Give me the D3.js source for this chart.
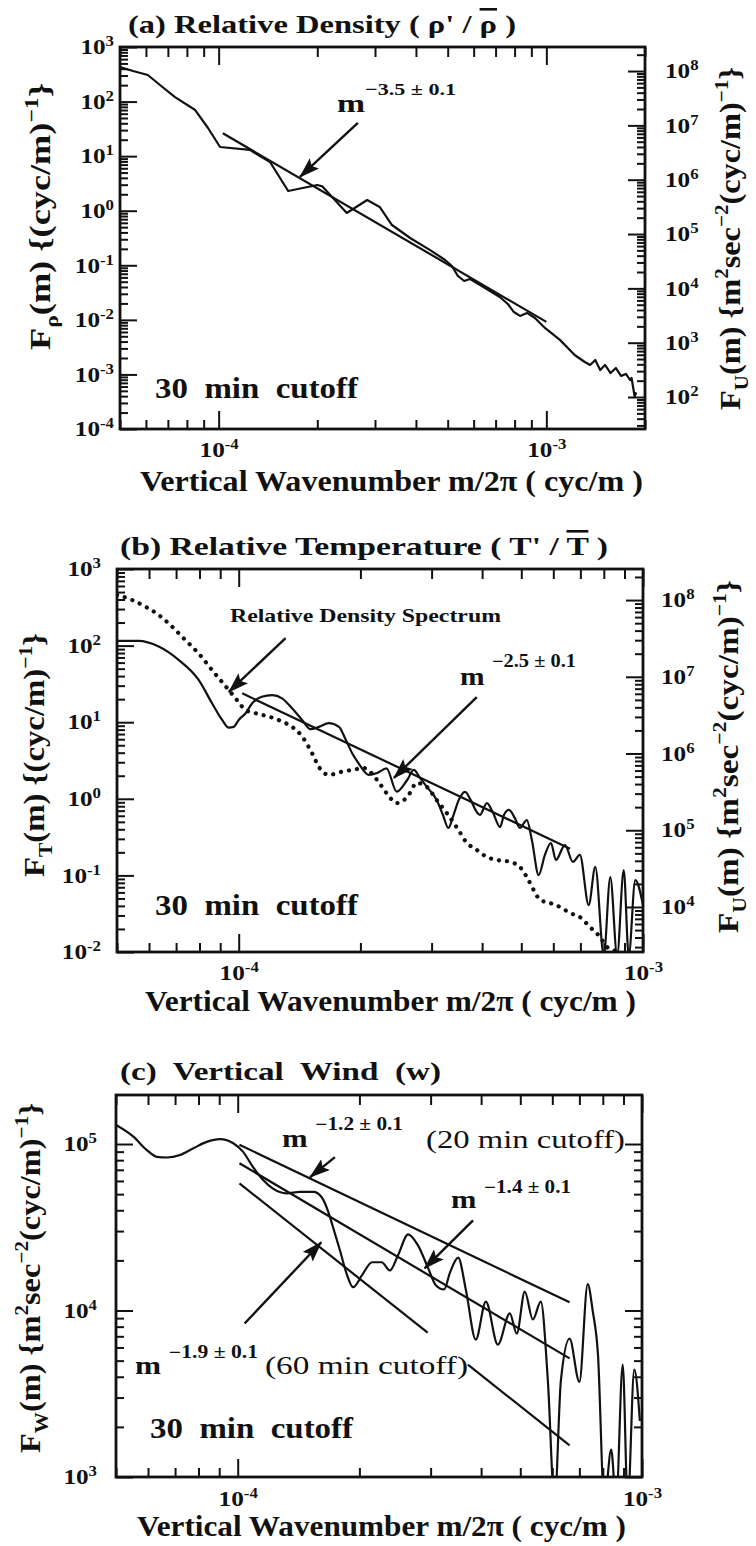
<!DOCTYPE html>
<html>
<head>
<meta charset="utf-8">
<script src="https://cdn.jsdelivr.net/npm/d3@7"></script>
<style>
  body { margin: 0; background: #fff; }
  text { white-space: pre; }
</style>
</head>
<body>
<script>
// ---- data ----
// (a) relative density spectrum
const waveA = [5.0e-5, 5.48e-5, 6.08e-5, 6.62e-5, 7.36e-5, 8.48e-5, 9.28e-5, 1.01e-4, 1.245e-4, 1.435e-4,
  1.63e-4, 2.0e-4, 2.07e-4, 2.46e-4, 2.84e-4, 3.10e-4, 3.38e-4, 3.84e-4, 4.42e-4, 4.91e-4,
  5.15e-4, 5.37e-4, 5.61e-4, 5.85e-4, 6.28e-4, 6.73e-4, 7.21e-4, 7.63e-4, 7.96e-4, 8.31e-4,
  8.73e-4, 9.23e-4, 9.90e-4, 1.10e-3, 1.22e-3, 1.31e-3, 1.36e-3, 1.41e-3, 1.46e-3, 1.51e-3,
  1.57e-3, 1.63e-3, 1.69e-3, 1.75e-3, 1.80e-3, 1.82e-3, 1.86e-3, 1.88e-3];
const specA = [430, 363, 307, 201, 121, 70, 32.8, 14.7, 13.0, 7.8,
  2.30, 2.96, 2.8, 0.91, 1.57, 1.17, 0.547, 0.316, 0.19, 0.125,
  0.097, 0.0637, 0.0515, 0.056, 0.0435, 0.0338, 0.0262, 0.0195, 0.0139, 0.0118,
  0.0134, 0.0108, 0.0071, 0.0043, 0.00227, 0.00169, 0.00149, 0.00184, 0.0012, 0.00149,
  0.00106, 0.00131, 0.00094, 0.00102, 0.00079, 0.00086, 0.00039, 0.00047];
const fitAx = [1.03e-4, 1.0e-3];
const fitAy = [26.2, 0.0092];

// (b) relative temperature spectrum + density spectrum (dotted)
const waveB = [5.0e-5, 5.65e-5, 6.34e-5, 7.10e-5, 7.96e-5, 8.59e-5, 9.10e-5, 9.45e-5, 9.72e-5, 1.0e-4,
  1.04e-4, 1.08e-4, 1.14e-4, 1.21e-4, 1.28e-4, 1.355e-4, 1.435e-4, 1.505e-4, 1.58e-4, 1.67e-4,
  1.77e-4, 1.84e-4, 1.91e-4, 1.98e-4, 2.10e-4, 2.20e-4, 2.32e-4, 2.46e-4, 2.61e-4, 2.71e-4,
  2.81e-4, 2.92e-4, 3.09e-4, 3.20e-4, 3.30e-4, 3.40e-4, 3.50e-4, 3.63e-4, 3.75e-4, 3.88e-4,
  3.95e-4, 4.11e-4, 4.25e-4, 4.43e-4, 4.53e-4, 4.66e-4, 4.82e-4, 4.96e-4, 5.16e-4, 5.31e-4,
  5.52e-4, 5.72e-4, 5.92e-4, 6.09e-4, 6.41e-4, 6.71e-4, 6.98e-4, 7.34e-4, 7.62e-4, 8.0e-4,
  8.30e-4, 8.63e-4, 8.96e-4, 9.22e-4, 9.57e-4, 1.0e-3];
const tempB = [115, 115, 97, 65, 35.6, 17.7, 10.7, 8.5, 8.7, 10.7,
  13.1, 17.7, 21.5, 22.6, 20.5, 15.2, 10.7, 8.1, 8.7, 9.7,
  8.7, 5.9, 3.9, 2.9, 2.05, 2.17, 2.5, 1.24, 1.76, 2.38,
  1.87, 1.43, 0.96, 0.615, 0.416, 0.615, 0.96, 1.23, 0.96, 0.67,
  0.615, 0.88, 0.67, 0.428, 0.615, 0.715, 0.56, 0.416, 0.528, 0.29,
  0.101, 0.185, 0.265, 0.159, 0.249, 0.15, 0.185, 0.041, 0.129, 0.009,
  0.095, 0.009, 0.117, 0.009, 0.087, 0.041];
const waveDensB = [5.0e-5, 5.45e-5, 5.88e-5, 6.34e-5, 6.84e-5, 7.38e-5, 7.96e-5, 8.59e-5, 9.45e-5, 9.9e-5,
  1.04e-4, 1.10e-4, 1.19e-4, 1.28e-4, 1.355e-4, 1.435e-4, 1.52e-4, 1.58e-4, 1.67e-4, 1.80e-4,
  1.91e-4, 2.04e-4, 2.20e-4, 2.32e-4, 2.46e-4, 2.61e-4, 2.76e-4, 2.92e-4, 3.09e-4, 3.27e-4,
  3.47e-4, 3.67e-4, 3.88e-4, 4.11e-4, 4.35e-4, 4.69e-4, 4.96e-4, 5.16e-4, 5.37e-4, 5.56e-4,
  5.89e-4, 6.23e-4, 6.60e-4, 6.98e-4, 7.39e-4, 7.83e-4, 8.15e-4, 8.63e-4, 9.0e-4];
const densB = [460, 394, 322, 251, 177, 118, 79, 48, 26.3, 19.5,
  14.4, 13.1, 11.8, 10.2, 8.7, 6.5, 3.9, 2.6, 2.05, 2.26,
  2.38, 2.52, 1.76, 1.19, 0.88, 1.05, 1.61, 1.43, 0.96, 0.653,
  0.416, 0.265, 0.215, 0.174, 0.159, 0.15, 0.129, 0.095, 0.064, 0.048,
  0.0436, 0.0387, 0.0323, 0.0286, 0.0212, 0.0157, 0.0116, 0.01, 0.008];
const fitBx = [1.02e-4, 6.6e-4];
const fitBy = [23.8, 0.223];

// (c) vertical wind spectrum
const waveC = [5.0e-5, 5.52e-5, 5.96e-5, 6.31e-5, 6.68e-5, 7.2e-5, 7.77e-5, 8.38e-5, 9.04e-5, 9.75e-5,
  1.03e-4, 1.09e-4, 1.156e-4, 1.22e-4, 1.32e-4, 1.425e-4, 1.54e-4, 1.61e-4, 1.67e-4, 1.72e-4,
  1.79e-4, 1.86e-4, 1.93e-4, 2.03e-4, 2.15e-4, 2.27e-4, 2.38e-4, 2.49e-4, 2.64e-4, 2.79e-4,
  2.96e-4, 3.09e-4, 3.24e-4, 3.35e-4, 3.51e-4, 3.67e-4, 3.88e-4, 4.11e-4, 4.40e-4, 4.71e-4,
  4.90e-4, 5.13e-4, 5.37e-4, 5.62e-4, 5.85e-4, 6.08e-4, 6.30e-4, 6.62e-4, 7.0e-4, 7.34e-4,
  7.55e-4, 7.78e-4, 8.07e-4, 8.39e-4, 8.63e-4, 8.96e-4, 9.22e-4, 9.57e-4, 9.88e-4];
const windC = [1.30e5, 1.107e5, 9.2e4, 8.38e4, 8.3e4, 8.59e4, 9.42e4, 1.03e5, 1.07e5, 1.01e5,
  9.0e4, 7.3e4, 6.07e4, 5.41e4, 5.05e4, 5.16e4, 5.16e4, 4.82e4, 4.0e4, 3.18e4,
  2.30e4, 1.66e4, 1.38e4, 1.63e4, 1.95e4, 1.95e4, 1.74e4, 2.14e4, 2.87e4, 2.47e4,
  1.79e4, 1.42e4, 1.34e4, 1.69e4, 2.08e4, 1.32e4, 6.69e3, 1.13e4, 6.24e3, 9.6e3,
  7.26e3, 1.30e4, 8.83e3, 1.13e4, 3.79e3, 7e2, 3.79e3, 6.78e3, 3.73e3, 1.44e4,
  1.0e4, 5.5e3, 7e2, 1.46e3, 7e2, 4.73e3, 7e2, 4.42e3, 2.17e3];
const fit20x = [1.01e-4, 6.62e-4], fit20y = [9.9e4, 1.12e4];
const fit30x = [1.01e-4, 6.62e-4], fit30y = [7.66e4, 5.16e3];
const fit60x = [1.01e-4, 6.62e-4], fit60y = [5.8e4, 1.55e3];
const fit60gap = [2.95e-4, 3.71e-4]; // where the "(60 min cutoff)" label breaks the line

// ---- drawing ----
const SERIF = "'Liberation Serif','Times New Roman',Times,serif";
const svg = d3.select("body").append("svg")
  .attr("width", 756).attr("height", 1546)
  .style("background", "#fff");

svg.append("defs").append("marker")
  .attr("id", "arr")
  .attr("markerUnits", "userSpaceOnUse")
  .attr("markerWidth", 22).attr("markerHeight", 14)
  .attr("refX", 20).attr("refY", 7)
  .attr("orient", "auto")
  .append("path").attr("d", "M0,0 L21,7 L0,14 L4,7 Z").attr("fill", "#111");

// text with super/subscript parts: [string, level, overline?]
function rich(parent, parts, o) {
  const t = parent.append("text")
    .attr("font-family", SERIF)
    .attr("font-size", o.size)
    .attr("font-weight", o.weight || "bold")
    .attr("fill", "#111");
  if (o.rotate) t.attr("transform", `translate(${o.x},${o.y}) rotate(-90)`);
  else t.attr("x", o.x).attr("y", o.y);
  let cur = 0;
  parts.forEach(([s, lv, over]) => {
    const shift = lv > 0 ? (o.supShift ?? -o.size * 0.45) : lv < 0 ? (o.subShift ?? o.size * 0.3) : 0;
    const sz = lv > 0 ? (o.supSize ?? o.size * 0.65) : lv < 0 ? (o.subSize ?? o.size * 0.65) : o.size;
    const ts = t.append("tspan").attr("dy", shift - cur).attr("font-size", sz).text(s);
    if (over) ts.style("text-decoration", "overline");
    cur = shift;
  });
  if (o.w) t.attr("textLength", o.w).attr("lengthAdjust", "spacingAndGlyphs");
  return t;
}

function logTicks(dom) {
  const out = [];
  const lo = Math.floor(Math.log10(dom[0])), hi = Math.ceil(Math.log10(dom[1]));
  for (let e = lo; e <= hi; e++)
    for (let k = 1; k <= 9; k++) {
      const v = k * Math.pow(10, e);
      if (v >= dom[0] * 0.999 && v <= dom[1] * 1.001) out.push(v);
    }
  return out;
}
const isMajor = (v) => Math.abs(Math.log10(v) - Math.round(Math.log10(v))) < 1e-6;

// one side of ticks: minor + major, inward, optional 10^n labels
function ticksSide(g, axisFn, scale, majLen, minLen, pad, labels) {
  const all = logTicks(scale.domain());
  const aMin = g.append("g").call(axisFn(scale).tickValues(all.filter((v) => !isMajor(v)))
    .tickSizeInner(-minLen).tickSizeOuter(0).tickFormat(""));
  const aMaj = g.append("g").call(axisFn(scale).tickValues(all.filter(isMajor))
    .tickSizeInner(-majLen).tickSizeOuter(0).tickPadding(pad).tickFormat(labels ? (d) => d : ""));
  [aMin, aMaj].forEach((a) => {
    a.select(".domain").remove();
    a.selectAll("line").attr("stroke", "#111").attr("stroke-width", 2);
  });
  if (labels) {
    aMaj.attr("font-family", SERIF).attr("font-size", 21).attr("font-weight", "bold");
    aMaj.selectAll("text").attr("fill", "#111").each(function (d) {
      const e = Math.round(Math.log10(d));
      const t = d3.select(this).text(null);
      t.append("tspan").text("10");
      t.append("tspan").attr("dy", -8).attr("font-size", 14).text(e);
      // the scanned figure's glyphs are wider than Times
      t.attr("textLength", this.getComputedTextLength() * 1.2).attr("lengthAdjust", "spacingAndGlyphs");
    });
  }
}

function makePanel(id, f, xDom, yDom, y2Dom, pads) {
  const x = d3.scaleLog().domain(xDom).range([f.l, f.r]);
  const y = d3.scaleLog().domain(yDom).range([f.b, f.t]);
  const y2 = d3.scaleLog().domain(y2Dom || yDom).range([f.b, f.t]);
  const g = svg.append("g");
  g.append("clipPath").attr("id", "clip" + id)
    .append("rect").attr("x", f.l).attr("y", f.t).attr("width", f.r - f.l).attr("height", f.b - f.t);

  ticksSide(g.append("g").attr("transform", `translate(0,${f.b})`), d3.axisBottom, x, 18, 9, pads.bottom, true);
  ticksSide(g.append("g").attr("transform", `translate(0,${f.t})`), d3.axisTop, x, 18, 10, 0, false);
  ticksSide(g.append("g").attr("transform", `translate(${f.l},0)`), d3.axisLeft, y, 17, 8, pads.left, true);
  ticksSide(g.append("g").attr("transform", `translate(${f.r},0)`), d3.axisRight, y2, 17, 8, pads.right, !!y2Dom);

  g.append("rect").attr("x", f.l).attr("y", f.t)
    .attr("width", f.r - f.l).attr("height", f.b - f.t)
    .attr("fill", "none").attr("stroke", "#111").attr("stroke-width", 2.8);

  const plot = g.append("g").attr("clip-path", `url(#clip${id})`);
  return { x, y, g, plot };
}

function curve(p, xs, ys, curveType, extra) {
  const line = d3.line().x((d) => p.x(d[0])).y((d) => p.y(d[1])).curve(curveType);
  const path = p.plot.append("path").datum(d3.zip(xs, ys)).attr("d", line)
    .attr("fill", "none").attr("stroke", "#111").attr("stroke-width", 2.2)
    .attr("stroke-linejoin", "round");
  if (extra) extra(path);
  return path;
}

function arrow(p, from, to) {
  p.g.append("line")
    .attr("x1", p.x(from[0])).attr("y1", p.y(from[1]))
    .attr("x2", p.x(to[0])).attr("y2", p.y(to[1]))
    .attr("stroke", "#111").attr("stroke-width", 2.4)
    .attr("marker-end", "url(#arr)");
}

const xTitle = "Vertical Wavenumber m/2π ( cyc/m )";
const densTitle = (sub) => [["F", 0], [sub, -1], ["(m) {(cyc/m)", 0], ["−1", 1], ["}", 0]];
const windTitle = (sub) => [["F", 0], [sub, -1], ["(m) {m", 0], ["2", 1], ["sec", 0], ["−2", 1],
  ["(cyc/m)", 0], ["−1", 1], ["}", 0]];

// ---------- (a) ----------
const pA = makePanel("A", { l: 120, r: 645, t: 47, b: 429 }, [5e-5, 2e-3], [1e-4, 1e3], [25.8, 2.77e8],
  { bottom: 13, left: 6, right: 20 });
curve(pA, waveA, specA, d3.curveLinear);
curve(pA, fitAx, fitAy, d3.curveLinear);
arrow(pA, [2.66e-4, 40.5], [1.77e-4, 4.15]);
rich(svg, [["(a) Relative Density ( ρ' / ", 0], ["ρ", 0, true], [" )", 0]], { x: 128, y: 33, size: 26, w: 388 });
rich(svg, [[xTitle, 0]], { x: 140, y: 491, size: 30, w: 503 });
rich(svg, [["30  min  cutoff", 0]], { x: 155, y: 398, size: 29, w: 203 });
rich(svg, [["m", 0], ["−3.5 ± 0.1", 1]], { x: 337, y: 112, size: 26, w: 119, supSize: 17, supShift: -17 });
rich(svg, densTitle("ρ"), { x: 50, y: 350, size: 30, w: 267, rotate: true, subShift: 8, supShift: -12 });
rich(svg, windTitle("U"), { x: 740, y: 410, size: 30, w: 343, rotate: true, subShift: 8, supShift: -12 });

// ---------- (b) ----------
const pB = makePanel("B", { l: 117, r: 643, t: 569, b: 952 }, [5e-5, 1e-3], [1e-2, 1e3], [2.59e3, 2.54e8],
  { bottom: 13, left: 16, right: 18 });
curve(pB, waveDensB, densB, d3.curveMonotoneX, (path) =>
  path.attr("stroke-width", 4.2).attr("stroke-linecap", "round").attr("stroke-dasharray", "0.1 8"));
curve(pB, waveB, tempB, d3.curveMonotoneX);
curve(pB, fitBx, fitBy, d3.curveLinear);
arrow(pB, [1.306e-4, 125.6], [9.45e-5, 24.8]);
arrow(pB, [3.88e-4, 21.3], [2.42e-4, 1.87]);
rich(svg, [["(b) Relative Temperature ( T' / ", 0], ["T", 0, true], [" )", 0]], { x: 120, y: 555, size: 26, w: 488 });
rich(svg, [[xTitle, 0]], { x: 145, y: 1011, size: 30, w: 491 });
rich(svg, [["30  min  cutoff", 0]], { x: 155, y: 915, size: 29, w: 203 });
rich(svg, [["Relative Density Spectrum", 0]], { x: 230, y: 622, size: 19, w: 271 });
rich(svg, [["m ", 0], ["−2.5 ± 0.1", 1]], { x: 460, y: 685, size: 26, w: 116, supSize: 18, supShift: -18 });
rich(svg, densTitle("T"), { x: 44, y: 877, size: 30, w: 244, rotate: true, subShift: 8, supShift: -12 });
rich(svg, windTitle("U"), { x: 738, y: 933, size: 30, w: 353, rotate: true, subShift: 8, supShift: -12 });

// ---------- (c) ----------
const pC = makePanel("C", { l: 116, r: 642, t: 1095, b: 1477 }, [5e-5, 1e-3], [1e3, 1.97e5], null,
  { bottom: 14, left: 19, right: 0 });
curve(pC, waveC, windC, d3.curveMonotoneX);
curve(pC, fit20x, fit20y, d3.curveLinear);
curve(pC, fit30x, fit30y, d3.curveLinear);
{
  const p = Math.log(fit60y[1] / fit60y[0]) / Math.log(fit60x[1] / fit60x[0]);
  const at = (v) => fit60y[0] * Math.pow(v / fit60x[0], p);
  curve(pC, [fit60x[0], fit60gap[0]], [fit60y[0], at(fit60gap[0])], d3.curveLinear);
  curve(pC, [fit60gap[1], fit60x[1]], [at(fit60gap[1]), fit60y[1]], d3.curveLinear);
}
arrow(pC, [1.74e-4, 8.35e4], [1.51e-4, 6.32e4]);
arrow(pC, [3.82e-4, 3.48e4], [2.90e-4, 1.79e4]);
arrow(pC, [1.04e-4, 8.36e3], [1.61e-4, 2.57e4]);
rich(svg, [["(c)  Vertical  Wind  (w)", 0]], { x: 120, y: 1080, size: 26, w: 321 });
rich(svg, [[xTitle, 0]], { x: 137, y: 1536, size: 30, w: 489 });
rich(svg, [["30  min  cutoff", 0]], { x: 150, y: 1438, size: 29, w: 203 });
rich(svg, [["m ", 0], ["−1.2 ± 0.1", 1]], { x: 282, y: 1147, size: 26, w: 121, supSize: 18, supShift: -17 });
rich(svg, [["(20 min cutoff)", 0]], { x: 426, y: 1148, size: 26, weight: "normal", w: 199 });
rich(svg, [["m ", 0], ["−1.4 ± 0.1", 1]], { x: 451, y: 1208, size: 26, w: 120, supSize: 18, supShift: -15 });
rich(svg, [["m ", 0], ["−1.9 ± 0.1", 1]], { x: 135, y: 1374, size: 26, w: 123, supSize: 18, supShift: -16 });
rich(svg, [["(60 min cutoff)", 0]], { x: 265, y: 1374, size: 26, weight: "normal", w: 203 });
rich(svg, windTitle("W"), { x: 40, y: 1453, size: 30, w: 350, rotate: true, subShift: 8, supShift: -12 });
</script>
</body>
</html>
